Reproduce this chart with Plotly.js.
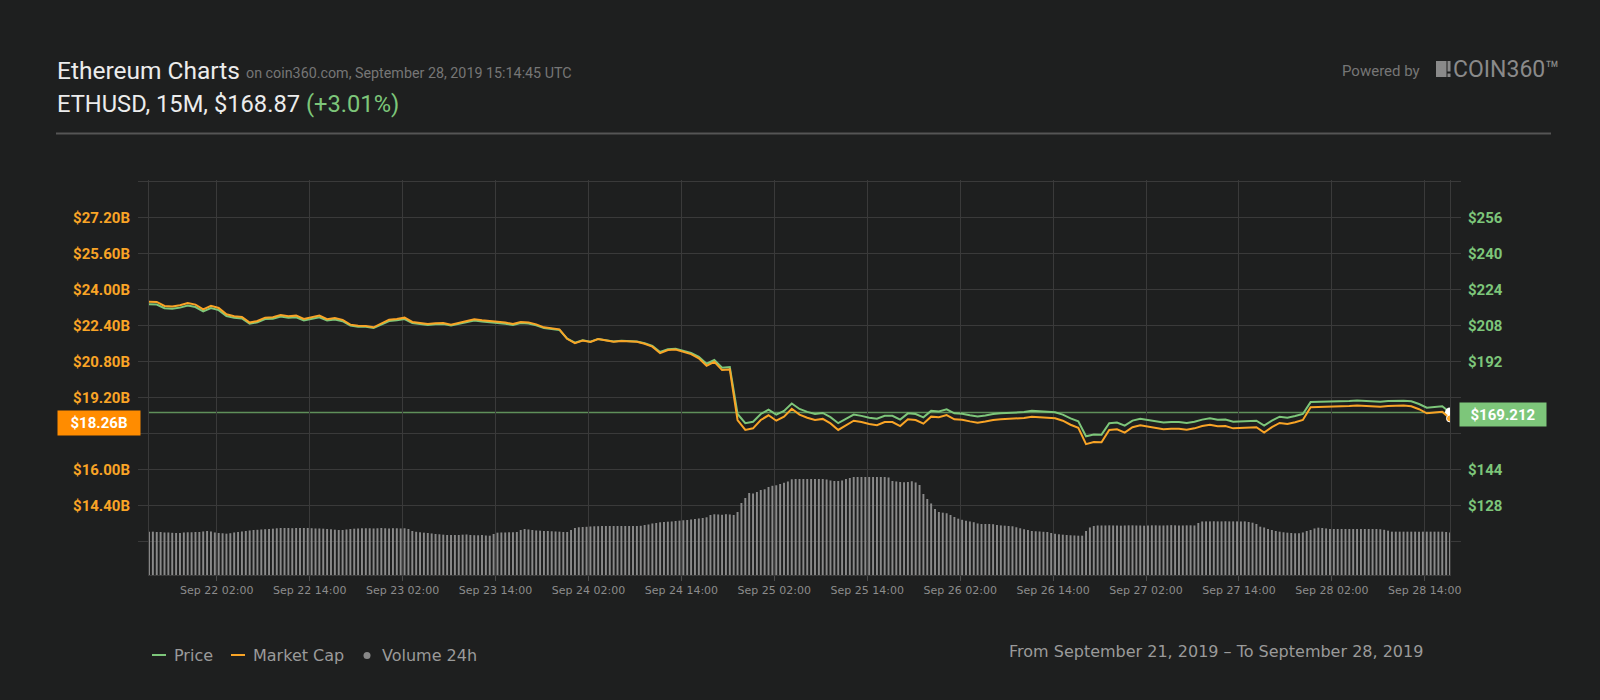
<!DOCTYPE html>
<html><head><meta charset="utf-8">
<script src="https://cdn.plot.ly/plotly-3.0.1.min.js"></script>
<style>html,body{margin:0;padding:0;background:#1e1f1f;}#chart{width:1600px;height:700px;}</style>
</head><body><div id="chart"></div>
<script>
// ---- data ----
const startUTC = Date.UTC(2019, 8, 21, 17, 15);   // Sep 21 2019 17:15
const lineStepMinutes = 60;
const volumeStepMinutes = 30;

const priceValues = [
217.33,217.24,215.57,215.38,215.85,216.77,216.13,214.18,215.66,214.74,
212.14,211.31,211.03,208.71,209.36,210.75,210.94,211.86,211.31,211.58,
210.19,210.94,211.58,210.10,210.57,209.82,207.88,207.41,207.32,206.77,
208.43,209.92,210.19,210.75,208.99,208.71,208.16,208.43,208.53,207.88,
208.71,209.45,210.10,209.64,209.36,208.99,208.71,208.16,208.99,208.80,
207.97,206.77,206.49,205.93,202.04,200.28,201.30,200.74,201.95,201.39,
200.83,201.11,200.83,200.83,200.00,198.80,196.11,197.40,197.59,196.76,
195.74,193.98,190.92,192.58,189.16,189.43,168.58,164.50,165.15,168.58,
170.53,168.30,169.97,173.22,170.81,169.51,168.58,169.04,167.19,164.50,
166.54,168.30,167.75,166.91,166.45,167.75,167.75,166.08,168.86,168.58,
167.10,169.97,169.69,170.62,168.86,168.67,168.03,167.47,167.93,168.58,
168.86,169.04,169.14,169.42,169.97,169.69,169.51,169.32,168.30,166.63,
165.34,158.66,159.50,159.41,164.50,164.78,163.39,165.62,166.45,165.80,
165.15,164.78,164.97,164.97,164.60,165.15,166.08,166.63,165.98,166.08,
165.15,165.34,165.43,165.62,163.39,165.62,167.38,166.91,167.66,168.58,
173.86,173.96,173.86,173.96,174.23,174.33,174.60,174.51,174.33,174.05,
174.33,174.51,174.51,174.23,173.03,171.36,171.64,172.01,169.21
];

const marketCapValues = [
23.45,23.44,23.26,23.24,23.29,23.39,23.32,23.11,23.27,23.17,
22.89,22.80,22.77,22.52,22.59,22.74,22.76,22.86,22.80,22.83,
22.68,22.76,22.83,22.67,22.72,22.64,22.43,22.38,22.37,22.31,
22.49,22.65,22.68,22.74,22.55,22.52,22.46,22.49,22.50,22.43,
22.52,22.60,22.67,22.62,22.59,22.55,22.52,22.46,22.55,22.53,
22.44,22.31,22.28,22.22,21.80,21.61,21.72,21.66,21.79,21.73,
21.67,21.70,21.67,21.67,21.58,21.45,21.16,21.30,21.32,21.23,
21.12,20.93,20.60,20.78,20.41,20.44,18.19,17.75,17.82,18.19,
18.40,18.16,18.34,18.69,18.43,18.29,18.19,18.24,18.04,17.75,
17.97,18.16,18.10,18.01,17.96,18.10,18.10,17.92,18.22,18.19,
18.03,18.34,18.31,18.41,18.22,18.20,18.13,18.07,18.12,18.19,
18.22,18.24,18.25,18.28,18.34,18.31,18.29,18.27,18.16,17.98,
17.84,17.12,17.21,17.20,17.75,17.78,17.63,17.87,17.96,17.89,
17.82,17.78,17.80,17.80,17.76,17.82,17.92,17.98,17.91,17.92,
17.82,17.84,17.85,17.87,17.63,17.87,18.06,18.01,18.09,18.19,
18.76,18.77,18.76,18.77,18.80,18.81,18.84,18.83,18.81,18.78,
18.81,18.83,18.83,18.80,18.67,18.49,18.52,18.56,18.26
];

// 24h volume, billions USD
const volumeValues = [
6.50,6.50,6.45,6.45,6.38,6.38,6.33,6.30,6.30,6.38,
6.41,6.41,6.45,6.45,6.53,6.60,6.53,6.38,6.30,6.26,
6.20,6.27,6.38,6.45,6.53,6.60,6.68,6.75,6.78,6.83,
6.87,6.90,6.95,7.01,7.05,7.05,7.05,7.02,7.05,7.05,
7.05,7.05,7.02,6.98,6.98,6.95,6.90,6.86,6.80,6.75,
6.75,6.83,6.90,6.95,6.98,7.01,7.01,7.01,6.98,7.01,
7.05,7.01,6.98,7.02,7.01,6.98,7.01,6.90,6.60,6.48,
6.41,6.35,6.30,6.23,6.15,6.11,6.05,6.00,6.00,6.00,
6.00,6.05,6.08,6.00,5.97,5.96,6.00,5.93,5.90,6.15,
6.35,6.38,6.38,6.41,6.41,6.45,6.75,6.90,6.83,6.75,
6.68,6.65,6.60,6.60,6.56,6.53,6.50,6.45,6.45,6.75,
7.05,7.16,7.20,7.23,7.28,7.31,7.32,7.35,7.35,7.35,
7.35,7.35,7.35,7.35,7.35,7.35,7.35,7.38,7.50,7.58,
7.73,7.80,7.91,7.95,8.00,8.03,8.10,8.15,8.21,8.25,
8.33,8.40,8.48,8.55,8.66,9.00,9.11,9.08,9.03,9.12,
9.08,9.00,9.45,10.80,11.55,12.30,12.23,12.45,12.75,12.86,
13.20,13.38,13.46,13.65,13.85,14.03,14.36,14.40,14.40,14.40,
14.40,14.40,14.40,14.40,14.40,14.33,14.18,14.10,14.10,14.18,
14.40,14.55,14.70,14.70,14.70,14.70,14.70,14.70,14.70,14.70,
14.70,14.63,14.10,14.03,13.95,13.91,13.95,14.06,13.88,13.50,
12.15,11.40,10.73,9.90,9.45,9.35,9.26,9.00,8.70,8.45,
8.28,8.15,8.03,7.92,7.73,7.65,7.65,7.65,7.62,7.50,
7.44,7.40,7.35,7.31,7.16,7.01,6.86,6.75,6.60,6.56,
6.53,6.48,6.45,6.30,6.18,6.11,6.05,6.00,5.96,5.93,
5.90,5.90,6.60,7.13,7.35,7.43,7.43,7.43,7.45,7.43,
7.43,7.40,7.43,7.45,7.45,7.43,7.43,7.40,7.43,7.45,
7.45,7.43,7.43,7.45,7.48,7.45,7.43,7.43,7.45,7.45,
7.43,7.80,8.03,8.04,8.04,8.06,8.04,8.04,8.06,8.04,
8.04,8.04,8.03,8.04,7.95,7.85,7.65,7.25,7.13,6.90,
6.75,6.60,6.50,6.41,6.35,6.30,6.26,6.26,6.38,6.60,
6.75,6.98,7.10,7.05,6.98,6.90,6.90,6.90,6.90,6.90,
6.90,6.90,6.90,6.90,6.90,6.90,6.90,6.90,6.87,6.78,
6.65,6.50,6.50,6.50,6.50,6.50,6.50,6.50,6.50,6.50,
6.50,6.50,6.50,6.50,6.50,6.45,6.38
];

const capTickVals  = [12.8, 14.4, 16.0, 17.6, 19.2, 20.8, 22.4, 24.0, 25.6, 27.2, 28.8];
const capTickText  = ['', '$14.40B', '$16.00B', '', '$19.20B', '$20.80B', '$22.40B', '$24.00B', '$25.60B', '$27.20B', ''];
const priceTickVals = [112, 128, 144, 160, 176, 192, 208, 224, 240, 256, 272];
const priceTickText = ['', '$128', '$144', '', '', '$192', '$208', '$224', '$240', '$256', ''];

const currentPrice = 169.212;
const currentPriceLabel = '$169.212';
const currentCapLabel = '$18.26B';
const legendLabels = ['Price', 'Market Cap', 'Volume 24h'];

// ---- colours ----
const BG = '#1e1f1f', GRID = '#3a3a3a';
const GREEN = '#7dc67a', ORANGE = '#f9a426', GREY = '#8a8a8a';

// ---- geometry helpers ----
const W = 1600, H = 700, ml = 149, mr = 150, mt = 180, mb = 125;
const plotW = W - ml - mr, plotH = H - mt - mb;
const px = x => (x - ml) / plotW;
const py = y => (H - mb - y) / plotH;

const lineTimes = priceValues.map((_, i) => startUTC + i * lineStepMinutes * 60000);
const volTimes = volumeValues.map((_, i) => startUTC + i * volumeStepMinutes * 60000);
const lastTime = lineTimes[lineTimes.length - 1];

const traces = [
  { type: 'scatter', mode: 'lines', x: lineTimes, y: priceValues, yaxis: 'y',
    line: { color: GREEN, width: 2 }, hoverinfo: 'skip', name: 'Price' },
  { type: 'scatter', mode: 'markers', x: [lastTime], y: [priceValues[priceValues.length - 1]], yaxis: 'y',
    marker: { color: '#ffffff', size: 10 }, hoverinfo: 'skip' },
  { type: 'scatter', mode: 'lines', x: lineTimes, y: marketCapValues, yaxis: 'y2',
    line: { color: ORANGE, width: 2 }, hoverinfo: 'skip', name: 'Market Cap' },
  { type: 'scatter', mode: 'markers', x: [lastTime], y: [marketCapValues[marketCapValues.length - 1]], yaxis: 'y2',
    marker: { color: ORANGE, size: 7, line: { color: '#ffffff', width: 1 } }, hoverinfo: 'skip' },
  { type: 'bar', x: volTimes, y: volumeValues, yaxis: 'y3', width: volumeStepMinutes * 60000 * 0.5,
    marker: { color: GREY, line: { width: 0 } }, hoverinfo: 'skip', name: 'Volume 24h' }
];

const ann = (x, y, text, opts) => Object.assign({
  xref: 'paper', yref: 'paper', x: px(x), y: py(y), text: text, showarrow: false,
  xanchor: 'left', yanchor: 'middle'
}, opts || {});

const legendFont = { family: 'DejaVu Sans', size: 16, color: '#9a9a9a' };

const annotations = [
  ann(55, 70.5, 'Ethereum Charts', { font: { family: 'Roboto', size: 24.5, color: '#ececec' } }),
  ann(244, 72.5, 'on coin360.com, September 28, 2019 15:14:45 UTC', { font: { family: 'Roboto', size: 14.3, color: '#767676' } }),
  ann(55, 103.5, 'ETHUSD, 15M, $168.87 <span style="color:' + GREEN + '">(+3.01%)</span>', { font: { family: 'Roboto', size: 23.7, color: '#ececec' } }),
  ann(1340, 71, 'Powered by', { font: { family: 'Roboto', size: 15, color: '#767676' } }),
  ann(1451, 69, 'COIN360™', { font: { family: 'Roboto', size: 23, color: '#8a8a8a' } }),
  // legend
  ann(172, 655, legendLabels[0], { font: legendFont }),
  ann(251, 655, legendLabels[1], { font: legendFont }),
  ann(380, 655, legendLabels[2], { font: legendFont }),
  ann(1425, 651, 'From September 21, 2019 – To September 28, 2019', { xanchor: 'right', font: legendFont }),
  // current value boxes
  { xref: 'paper', yref: 'y2', x: px(99), y: marketCapValues[marketCapValues.length - 1], yshift: -4.5,
    text: '<b>' + currentCapLabel + '</b>', showarrow: false, xanchor: 'center', yanchor: 'middle',
    bgcolor: '#ff8c00', width: 78, height: 20, borderpad: 2, align: 'center',
    font: { family: 'Roboto', size: 15, color: '#ffffff' } },
  { xref: 'paper', yref: 'y', x: px(1503), y: currentPrice, yshift: -2,
    text: '<b>' + currentPriceLabel + '</b>', showarrow: false, xanchor: 'center', yanchor: 'middle',
    bgcolor: GREEN, width: 82, height: 19, borderpad: 2, align: 'center',
    font: { family: 'Roboto', size: 15, color: '#ffffff' } }
];

const shapes = [
  // header separator
  { type: 'line', xref: 'paper', yref: 'paper', x0: px(56), x1: px(1551), y0: py(133.5), y1: py(133.5),
    line: { color: '#555555', width: 2 } },
  // logo icon
  { type: 'rect', xref: 'paper', yref: 'paper', x0: px(1436), x1: px(1446.5), y0: py(77), y1: py(61),
    fillcolor: '#8a8a8a', line: { width: 0 } },
  { type: 'rect', xref: 'paper', yref: 'paper', x0: px(1447.5), x1: px(1450.5), y0: py(71.5), y1: py(61),
    fillcolor: '#8a8a8a', line: { width: 0 } },
  { type: 'rect', xref: 'paper', yref: 'paper', x0: px(1447.5), x1: px(1450.5), y0: py(77), y1: py(73.5),
    fillcolor: '#8a8a8a', line: { width: 0 } },
  // current price line
  { type: 'line', xref: 'paper', yref: 'y', x0: 0, x1: 1, y0: currentPrice, y1: currentPrice,
    line: { color: '#5f8f5a', width: 1.5 }, layer: 'below' },
  // legend markers
  { type: 'line', xref: 'paper', yref: 'paper', x0: px(152), x1: px(166), y0: py(655), y1: py(655),
    line: { color: GREEN, width: 2 } },
  { type: 'line', xref: 'paper', yref: 'paper', x0: px(231), x1: px(245), y0: py(655), y1: py(655),
    line: { color: ORANGE, width: 2 } },
  { type: 'circle', xref: 'paper', yref: 'paper', x0: px(363.5), x1: px(370.5), y0: py(659), y1: py(652),
    fillcolor: '#888888', line: { width: 0 } }
];

const axisTickFont = c => ({ family: 'Roboto', size: 15, color: c, weight: 'bold' });

const layout = {
  width: W, height: H,
  margin: { l: ml, r: mr, t: mt, b: mb, pad: 0 },
  paper_bgcolor: BG, plot_bgcolor: BG,
  showlegend: false, hovermode: false,
  xaxis: {
    type: 'date', range: [startUTC, lastTime],
    tick0: '2019-09-22 02:00', dtick: 12 * 3600 * 1000, tickformat: '%b %d %H:%M',
    showgrid: true, gridcolor: GRID, gridwidth: 1,
    ticks: 'outside', ticklen: 5, tickcolor: '#4a4a4a',
    showline: true, linecolor: GRID, zeroline: false,
    tickfont: { family: 'DejaVu Sans', size: 11, color: '#8c8c8c' }, fixedrange: true
  },
  yaxis: {
    side: 'right', range: [97.02, 272.58], tickmode: 'array',
    tickvals: priceTickVals, ticktext: priceTickText,
    showgrid: true, gridcolor: GRID, gridwidth: 1,
    ticks: 'outside', ticklen: 10, tickcolor: GRID,
    showline: true, linecolor: GRID, zeroline: false,
    tickfont: axisTickFont(GREEN), ticklabelstandoff: 4, fixedrange: true
  },
  yaxis2: {
    side: 'left', overlaying: 'y', range: [11.302, 28.858], tickmode: 'array',
    tickvals: capTickVals, ticktext: capTickText,
    showgrid: false, ticks: 'outside', ticklen: 10, tickcolor: GRID,
    showline: true, linecolor: GRID, zeroline: false,
    tickfont: axisTickFont(ORANGE), ticklabelstandoff: 5, fixedrange: true
  },
  yaxis3: { overlaying: 'y', range: [0, 59.25], visible: false, fixedrange: true },
  annotations: annotations,
  shapes: shapes
};

Plotly.newPlot('chart', traces, layout, { displayModeBar: false, staticPlot: true });
</script>
</body></html>
